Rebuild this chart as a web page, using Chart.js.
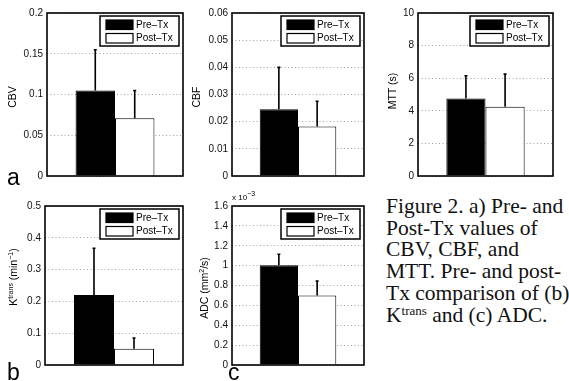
<!DOCTYPE html>
<html>
<head>
<meta charset="utf-8">
<script src="https://cdn.jsdelivr.net/npm/chart.js@4.4.0/dist/chart.umd.min.js"></script>
<style>
  html, body { margin: 0; padding: 0; background: #fff; }
  #page { position: relative; width: 569px; height: 381px; overflow: hidden; background: #fff; }
  #page canvas { position: absolute; }
  .tag { position: absolute; font: 23px "Liberation Sans", Arial, sans-serif; line-height: 23px; color: #000; }
  #caption { position: absolute; left: 386px; top: 196px; font: 21.5px "Liberation Serif", "Times New Roman", serif; line-height: 21.7px; color: #111; white-space: nowrap; }
  #caption sup { font-size: 13px; vertical-align: 7px; line-height: 0; }
  #expo { position: absolute; left: 232px; top: 193px; font: 8px "Liberation Sans", Arial, sans-serif; color: #000; white-space: nowrap; }
  #expo sup { font-size: 7px; vertical-align: 4px; line-height: 0; }
</style>
</head>
<body>
<div id="page">
  <canvas id="cbvChart" width="186" height="183" style="left:3px;top:3px"></canvas>
  <canvas id="cbfChart" width="182" height="183" style="left:188px;top:3px"></canvas>
  <canvas id="mttChart" width="185" height="183" style="left:374px;top:3px"></canvas>
  <canvas id="ktransChart" width="188" height="179" style="left:1px;top:196px"></canvas>
  <canvas id="adcChart" width="182" height="179" style="left:188px;top:196px"></canvas>
  <span class="tag" style="left:7px;top:166px">a</span>
  <span class="tag" style="left:7px;top:361px">b</span>
  <span class="tag" style="left:228px;top:361px">c</span>
  <span id="expo">x 10<sup>&minus;3</sup></span>
  <div id="caption">Figure 2. a) Pre- and<br>Post-Tx values of<br>CBV, CBF, and<br>MTT. Pre- and post-<br>Tx comparison of (b)<br>K<sup>trans</sup> and (c) ADC.</div>
</div>
<script>
// === DATA ===
const groups = ['Pre\u2013Tx', 'Post\u2013Tx'];

// mean values and upper error (SD) per group
const cbvMean = [0.105, 0.071];
const cbvErr = [0.050, 0.034];
const cbvTicks = [0, 0.05, 0.1, 0.15, 0.2];
const cbvTickLabels = ['0', '0.05', '0.1', '0.15', '0.2'];

const cbfMean = [0.0246, 0.0182];
const cbfErr = [0.0154, 0.0093];
const cbfTicks = [0, 0.01, 0.02, 0.03, 0.04, 0.05, 0.06];
const cbfTickLabels = ['0', '0.01', '0.02', '0.03', '0.04', '0.05', '0.06'];

const mttMean = [4.75, 4.25];
const mttErr = [1.40, 2.00];
const mttTicks = [0, 2, 4, 6, 8, 10];
const mttTickLabels = ['0', '2', '4', '6', '8', '10'];

const ktransMean = [0.22, 0.051];
const ktransErr = [0.147, 0.034];
const ktransTicks = [0, 0.1, 0.2, 0.3, 0.4, 0.5];
const ktransTickLabels = ['0', '0.1', '0.2', '0.3', '0.4', '0.5'];

const adcMean = [0.001005, 0.00070];
const adcErr = [0.00011, 0.000145];
const adcTicks = [0, 0.0002, 0.0004, 0.0006, 0.0008, 0.001, 0.0012, 0.0014, 0.0016];
const adcTickLabels = ['0', '0.2', '0.4', '0.6', '0.8', '1', '1.2', '1.4', '1.6'];

const FONT = '"Liberation Sans", Arial, Helvetica, sans-serif';

// error bars, axes box, legend and y title (drawn on top of the bars)
const panelDeco = {
    id: 'panelDeco',
    afterDatasetsDraw(chart, args, opts) {
        const { ctx, chartArea: a, scales: { y } } = chart;
        ctx.save();
        ctx.strokeStyle = '#000';

        // error bars (upper half only)
        ctx.lineWidth = 1.6;
        chart.data.datasets.forEach((ds, i) => {
            chart.getDatasetMeta(i).data.forEach((bar, j) => {
                const top = y.getPixelForValue(ds.data[j] + ds.err[j]);
                ctx.beginPath();
                ctx.moveTo(bar.x, bar.y);
                ctx.lineTo(bar.x, top);
                ctx.moveTo(bar.x - 1.5, top);
                ctx.lineTo(bar.x + 1.5, top);
                ctx.stroke();
            });
        });

        // box
        ctx.lineWidth = 1.6;
        ctx.strokeRect(a.left, a.top, a.width, a.height);

        // legend
        const lw = 79, lh = 30;
        const lx = a.right - 4 - lw, ly = a.top + 3;
        ctx.fillStyle = '#fff';
        ctx.fillRect(lx, ly, lw, lh);
        ctx.lineWidth = 1.5;
        ctx.strokeRect(lx, ly, lw, lh);
        ctx.font = '10px ' + FONT;
        ctx.textBaseline = 'middle';
        chart.data.datasets.forEach((ds, i) => {
            const sy = ly + 4 + i * 13.5;
            ctx.fillStyle = ds.backgroundColor;
            ctx.fillRect(lx + 6, sy, 27, 9.5);
            ctx.lineWidth = 1.2;
            ctx.strokeRect(lx + 6, sy, 27, 9.5);
            ctx.fillStyle = '#000';
            ctx.fillText(ds.label, lx + 36, sy + 5);
        });

        // y axis title, rotated, with optional superscripts
        const parts = opts.title;
        const fontOf = p => (p.sup ? '7px ' : '10.5px ') + FONT;
        let total = 0;
        parts.forEach(p => { ctx.font = fontOf(p); total += ctx.measureText(p.t).width; });
        ctx.translate(a.left + opts.titleDx, opts.titleCy);
        ctx.rotate(-Math.PI / 2);
        ctx.textBaseline = 'alphabetic';
        ctx.fillStyle = '#000';
        let px = -total / 2;
        parts.forEach(p => {
            ctx.font = fontOf(p);
            ctx.fillText(p.t, px, p.sup ? -0.5 : 3.8);
            px += ctx.measureText(p.t).width;
        });
        ctx.restore();
    }
};

function makePanel(canvasId, p) {
    const el = document.getElementById(canvasId);
    if (!el) return;
    return new Chart(el, {
        type: 'bar',
        data: {
            labels: [''],
            datasets: groups.map((g, i) => ({
                label: g,
                data: [p.mean[i]],
                err: [p.err[i]],
                backgroundColor: i ? '#ffffff' : '#000000',
                borderColor: '#000',
                borderWidth: 1,
            }))
        },
        options: {
            responsive: false,
            animation: false,
            layout: { padding: { top: 8, right: 6, bottom: 6, left: 0 } },
            datasets: { bar: { categoryPercentage: 0.58, barPercentage: 1 } },
            plugins: {
                legend: { display: false },
                tooltip: { enabled: false },
                panelDeco: { title: p.title, titleDx: p.titleDx, titleCy: p.titleCy }
            },
            scales: {
                x: { display: false },
                y: {
                    min: 0,
                    max: p.ticks[p.ticks.length - 1],
                    afterFit: s => { s.width = 44; },
                    afterBuildTicks: s => { s.ticks = p.ticks.map(v => ({ value: v })); },
                    ticks: {
                        callback: (v, i) => p.tickLabels[i],
                        color: '#111',
                        font: { family: FONT, size: 10 },
                        padding: 4
                    },
                    grid: { color: '#8a8a8a', lineWidth: 0.8, drawTicks: false },
                    border: { display: false, dash: [1, 2.5] }
                }
            }
        },
        plugins: [panelDeco]
    });
}

makePanel('cbvChart', {
    mean: cbvMean, err: cbvErr, ticks: cbvTicks, tickLabels: cbvTickLabels,
    title: [{ t: 'CBV' }], titleDx: -35, titleCy: 94
});
makePanel('cbfChart', {
    mean: cbfMean, err: cbfErr, ticks: cbfTicks, tickLabels: cbfTickLabels,
    title: [{ t: 'CBF' }], titleDx: -36, titleCy: 94
});
makePanel('mttChart', {
    mean: mttMean, err: mttErr, ticks: mttTicks, tickLabels: mttTickLabels,
    title: [{ t: 'MTT (s)' }], titleDx: -26, titleCy: 88
});
makePanel('ktransChart', {
    mean: ktransMean, err: ktransErr, ticks: ktransTicks, tickLabels: ktransTickLabels,
    title: [{ t: 'K' }, { t: 'trans', sup: true }, { t: ' (min' }, { t: '\u22121', sup: true }, { t: ')' }],
    titleDx: -32, titleCy: 81
});
makePanel('adcChart', {
    mean: adcMean, err: adcErr, ticks: adcTicks, tickLabels: adcTickLabels,
    title: [{ t: 'ADC (mm' }, { t: '2', sup: true }, { t: '/s)' }],
    titleDx: -28, titleCy: 92
});
</script>
</body>
</html>
